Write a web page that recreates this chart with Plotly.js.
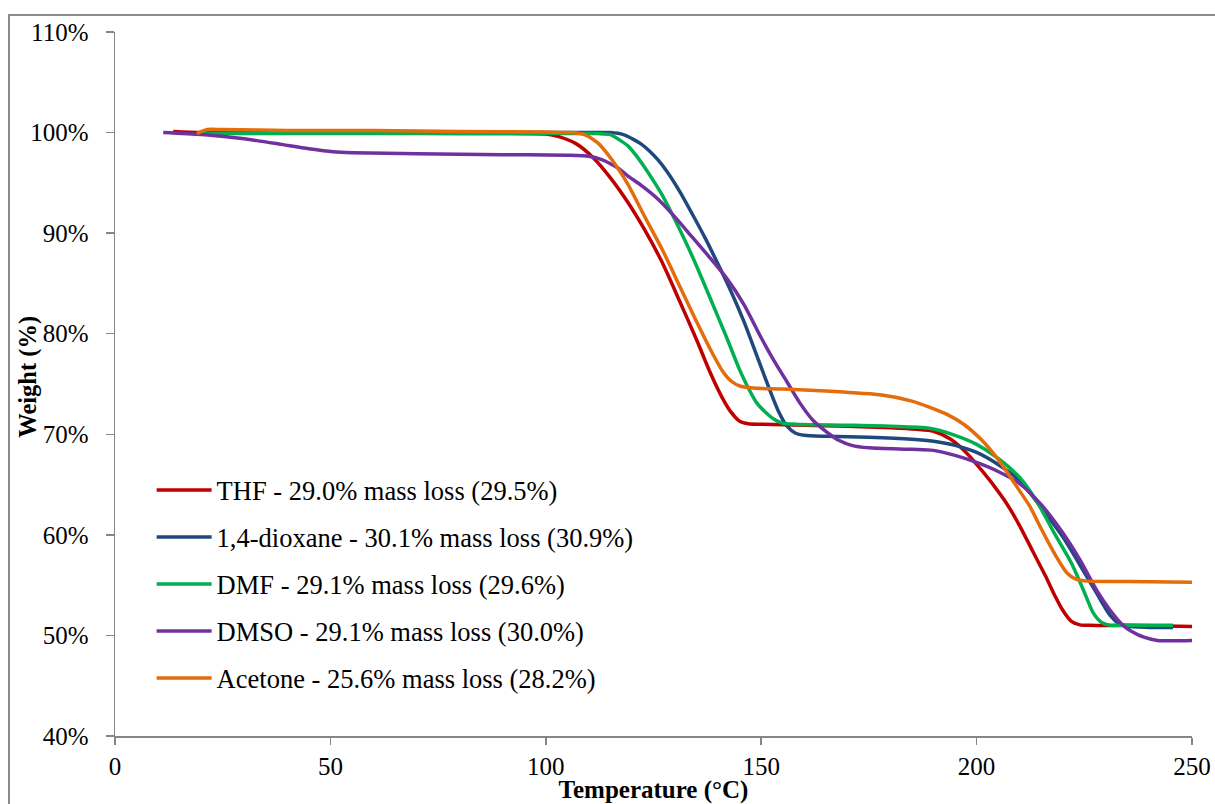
<!DOCTYPE html>
<html>
<head>
<meta charset="utf-8">
<script src="https://cdn.plot.ly/plotly-3.0.1.min.js"></script>
<style>
  html, body { margin: 0; padding: 0; background: #ffffff; }
  #frame { position: absolute; left: 8px; top: 14px; width: 1220px; height: 820px; border: 2px solid #8c8c8c; box-sizing: border-box; }
  #chart { position: absolute; left: 0; top: 0; width: 1215px; height: 804px; }
</style>
</head>
<body>
<div id="frame"></div>
<div id="chart"></div>
<script>
const seriesNames = [
  "THF - 29.0% mass loss (29.5%)",
  "1,4-dioxane - 30.1% mass loss (30.9%)",
  "DMF - 29.1% mass loss (29.6%)",
  "DMSO - 29.1% mass loss (30.0%)",
  "Acetone - 25.6% mass loss (28.2%)"
];
const seriesColors = ["#C00000", "#1F497D", "#00B050", "#7030A0", "#E46C0A"];

// THF
const thfT = [13.5, 20, 40, 60, 80, 100, 103, 107, 111, 115, 119, 123, 127, 131, 135, 138, 141, 143, 145, 147, 150, 160, 170, 180, 186, 190, 194, 198, 201, 204, 207, 210, 213, 216, 218, 220, 222, 224, 226, 235, 250];
const thfW = [100.1, 100.0, 100.0, 99.95, 99.9, 99.85, 99.6, 98.9, 97.5, 95.5, 93.1, 90.3, 87.1, 83.3, 79.4, 76.3, 73.6, 72.2, 71.3, 71.05, 71.0, 70.9, 70.8, 70.65, 70.5, 70.3, 69.5, 68.0, 66.5, 64.9, 63.1, 60.9, 58.4, 55.9, 54.1, 52.5, 51.4, 51.05, 51.0, 51.0, 50.9];

// 1,4-dioxane
const dioxT = [20, 40, 80, 110, 115, 118, 120, 122, 124, 126, 128, 131, 134, 137, 140, 143, 146, 149, 152, 154, 156, 158, 160, 165, 175, 185, 190, 195, 200, 205, 210, 215, 220, 224, 228, 231, 233, 235, 240, 245.6];
const dioxW = [100.0, 100.0, 100.0, 100.0, 100.0, 99.8, 99.4, 98.9, 98.2, 97.3, 96.2, 94.2, 91.9, 89.5, 86.9, 84.2, 81.2, 77.8, 74.4, 72.3, 70.8, 70.1, 69.9, 69.8, 69.7, 69.5, 69.3, 68.9, 68.2, 67.0, 65.4, 62.7, 59.8, 57.0, 54.1, 52.0, 51.2, 50.9, 50.8, 50.8];

// DMF
const dmfT = [20, 60, 100, 112, 115, 117, 119, 121, 123, 125, 127, 130, 134, 138, 142, 145, 147, 149, 151, 153, 155, 158, 170, 180, 189, 195, 200, 205, 210, 214, 218, 222, 225, 227, 229, 231, 235, 245.6];
const dmfW = [99.9, 99.9, 99.9, 99.9, 99.8, 99.3, 98.7, 97.7, 96.5, 95.2, 93.8, 91.3, 87.7, 83.7, 79.6, 76.4, 74.6, 73.1, 72.2, 71.5, 71.1, 71.0, 70.9, 70.8, 70.6, 69.9, 69.0, 67.6, 65.7, 63.3, 60.2, 57.2, 54.3, 52.3, 51.3, 51.0, 51.0, 51.0];

// DMSO
const dmsoT = [11.2, 20, 27.4, 33, 39, 45, 50.6, 55, 70, 90, 105, 110, 113, 115, 117, 119, 122, 126, 130, 134, 138, 142, 146, 150, 153, 156, 159, 162, 165, 168, 171, 175, 185, 190, 195, 200, 205, 210, 215, 220, 224, 228, 231, 234, 236, 239, 242, 250];
const dmsoW = [100.0, 99.8, 99.5, 99.2, 98.8, 98.4, 98.1, 98.0, 97.9, 97.8, 97.75, 97.65, 97.3, 96.9, 96.4, 95.7, 94.8, 93.4, 91.6, 89.6, 87.6, 85.5, 82.9, 79.6, 77.3, 75.2, 73.1, 71.4, 70.3, 69.4, 68.9, 68.65, 68.5, 68.4, 67.9, 67.2, 66.3, 65.1, 63.0, 60.2, 57.5, 54.4, 52.5, 51.0, 50.4, 49.8, 49.5, 49.5];

// Acetone
const aceT = [19, 20, 21.5, 25, 40, 60, 80, 100, 106, 109, 112, 115, 119, 123, 127, 131, 135, 138, 141, 143, 145, 148, 155, 165, 178, 185, 189, 193, 197, 201, 205, 209, 212.4, 215, 218, 221, 223, 226, 235, 250];
const aceW = [99.9, 100.1, 100.3, 100.3, 100.2, 100.2, 100.1, 100.05, 100.0, 99.8, 99.0, 97.5, 94.9, 91.6, 88.4, 84.8, 81.2, 78.6, 76.3, 75.3, 74.8, 74.6, 74.5, 74.3, 73.9, 73.3, 72.7, 72.0, 71.0, 69.5, 67.5, 65.0, 62.8, 60.6, 58.2, 56.2, 55.6, 55.4, 55.35, 55.3];

const xTickStart = 0, xTickStep = 50;
const yTickStart = 40, yTickStep = 10, yTickSuffix = '%';
const xTitle = '<b>Temperature (°C)</b>';
const yTitle = '<b>Weight (%)</b>';

const xs = [thfT, dioxT, dmfT, dmsoT, aceT];
const ys = [thfW, dioxW, dmfW, dmsoW, aceW];

const traces = xs.map((x, i) => ({
  x: x,
  y: ys[i],
  type: 'scatter',
  mode: 'lines',
  name: seriesNames[i],
  legendgroup: 'g' + i,
  line: { color: seriesColors[i], width: 3.5, shape: 'spline', smoothing: 0.7 }
}));

const serif = '"Liberation Serif", "Times New Roman", serif';

const layout = {
  width: 1215,
  height: 804,
  margin: { l: 115, r: 23, t: 32, b: 68 },
  font: { family: serif, size: 25, color: '#000000' },
  paper_bgcolor: 'rgba(0,0,0,0)',
  plot_bgcolor: 'rgba(0,0,0,0)',
  showlegend: true,
  legend: {
    x: 0.034, y: 0.383, xanchor: 'left', yanchor: 'top',
    bgcolor: 'rgba(0,0,0,0)',
    font: { family: serif, size: 26.5, color: '#000000' },
    itemwidth: 55,
    tracegroupgap: 9.5,
    traceorder: 'grouped'
  },
  xaxis: {
    range: [0, 250],
    tickmode: 'linear', tick0: xTickStart, dtick: xTickStep,
    ticks: 'outside', ticklen: 7, tickwidth: 1.5, tickcolor: '#868686',
    showline: true, linecolor: '#868686', linewidth: 1.5,
    showgrid: false, zeroline: false,
    tickfont: { family: serif, size: 25, color: '#000000' },
    title: { text: xTitle, font: { family: serif, size: 25, color: '#000000' }, standoff: 0 }
  },
  yaxis: {
    range: [40, 110],
    tickmode: 'linear', tick0: yTickStart, dtick: yTickStep,
    ticksuffix: yTickSuffix,
    showticksuffix: 'all',
    ticklabelstandoff: 12,
    ticks: 'outside', ticklen: 8, tickwidth: 1.5, tickcolor: '#868686',
    showline: true, linecolor: '#868686', linewidth: 1.5,
    showgrid: false, zeroline: false,
    tickfont: { family: serif, size: 25, color: '#000000' }
  },
  annotations: [{
    text: yTitle, textangle: -90,
    xref: 'paper', yref: 'paper', x: -0.081, y: 0.51,
    xanchor: 'center', yanchor: 'middle', showarrow: false,
    font: { family: serif, size: 24.5, color: '#000000' }
  }]
};

Plotly.newPlot('chart', traces, layout, { displayModeBar: false, staticPlot: true });
</script>
</body>
</html>
